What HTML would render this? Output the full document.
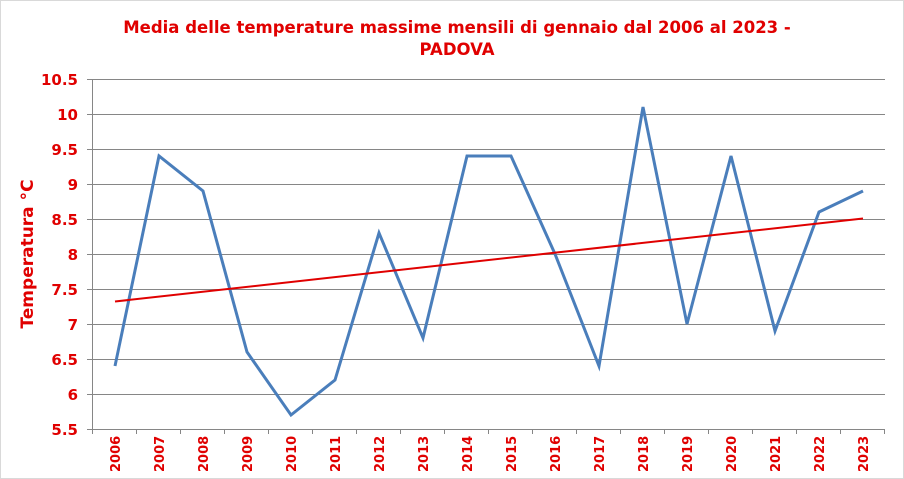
<!DOCTYPE html>
<html><head><meta charset="utf-8"><style>
html,body{margin:0;padding:0;background:#fff;}
svg{display:block;font-family:"DejaVu Sans","Liberation Sans",sans-serif;}
</style></head><body>
<svg width="904" height="479" viewBox="0 0 904 479">
<rect width="904" height="479" fill="#fff"/>
<rect x="0.5" y="0.5" width="903" height="478" fill="none" stroke="#d9d9d9"/>
<text x="457" y="33" text-anchor="middle" font-size="16.5" font-weight="bold" fill="#e00000">Media delle temperature massime mensili di gennaio dal 2006 al 2023 -</text>
<text x="457" y="55" text-anchor="middle" font-size="16.5" font-weight="bold" fill="#e00000">PADOVA</text>
<g stroke="#868686" stroke-width="1">
<line x1="92" y1="79.5" x2="885" y2="79.5"/><line x1="92" y1="114.5" x2="885" y2="114.5"/>
<line x1="92" y1="149.5" x2="885" y2="149.5"/><line x1="92" y1="184.5" x2="885" y2="184.5"/>
<line x1="92" y1="219.5" x2="885" y2="219.5"/><line x1="92" y1="254.5" x2="885" y2="254.5"/>
<line x1="92" y1="289.5" x2="885" y2="289.5"/><line x1="92" y1="324.5" x2="885" y2="324.5"/>
<line x1="92" y1="359.5" x2="885" y2="359.5"/><line x1="92" y1="394.5" x2="885" y2="394.5"/>
<line x1="92" y1="429.5" x2="885" y2="429.5"/>
<line x1="92.5" y1="79" x2="92.5" y2="434"/>
<line x1="87" y1="79.5" x2="92" y2="79.5"/><line x1="87" y1="114.5" x2="92" y2="114.5"/><line x1="87" y1="149.5" x2="92" y2="149.5"/><line x1="87" y1="184.5" x2="92" y2="184.5"/><line x1="87" y1="219.5" x2="92" y2="219.5"/><line x1="87" y1="254.5" x2="92" y2="254.5"/><line x1="87" y1="289.5" x2="92" y2="289.5"/><line x1="87" y1="324.5" x2="92" y2="324.5"/><line x1="87" y1="359.5" x2="92" y2="359.5"/><line x1="87" y1="394.5" x2="92" y2="394.5"/><line x1="87" y1="429.5" x2="92" y2="429.5"/>
</g>
<g stroke="#868686" id="ticks"></g>
<g font-size="15" font-weight="bold" fill="#e00000" text-anchor="end">
<text x="78" y="85">10.5</text><text x="78" y="120">10</text><text x="78" y="155">9.5</text><text x="78" y="190">9</text><text x="78" y="225">8.5</text><text x="78" y="260">8</text><text x="78" y="295">7.5</text><text x="78" y="330">7</text><text x="78" y="365">6.5</text><text x="78" y="400">6</text><text x="78" y="435">5.5</text>
</g>
<text transform="translate(33,254) rotate(-90)" text-anchor="middle" font-size="17" font-weight="bold" fill="#e00000">Temperatura °C</text>
<g id="xl" font-size="13" font-weight="bold" fill="#e00000"></g>
<polyline fill="none" stroke="#4a7ebb" stroke-width="3" stroke-linejoin="miter" points="115,366 159,156 203,191 247,352 291,415 335,380 379,233 423,338 467,156 511,156 555,254 599,366 643,107 687,324 731,156 775,331 819,212 863,191"/>
<line x1="115" y1="301.5" x2="863" y2="218.5" stroke="#e00000" stroke-width="2"/>
<script>
var t=document.getElementById('ticks'),xl=document.getElementById('xl'),ns='http://www.w3.org/2000/svg';
for(var i=0;i<=18;i++){var x=92.5+i*44;var l=document.createElementNS(ns,'line');l.setAttribute('x1',x);l.setAttribute('x2',x);l.setAttribute('y1',429);l.setAttribute('y2',434);t.appendChild(l);}
for(var i=0;i<18;i++){var cx=115+i*44;var e=document.createElementNS(ns,'text');e.setAttribute('transform','translate('+(cx+5)+',472) rotate(-90)');e.textContent=2006+i;xl.appendChild(e);}
</script>
</svg>
</body></html>
